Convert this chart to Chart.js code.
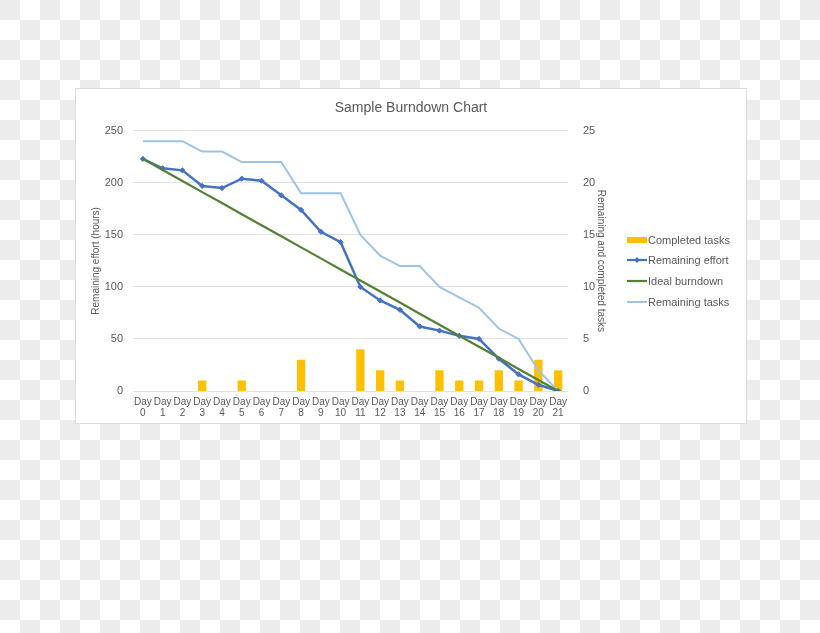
<!DOCTYPE html>
<html>
<head>
<meta charset="utf-8">
<script src="https://cdn.jsdelivr.net/npm/chart.js@4.4.0/dist/chart.umd.min.js"></script>
<style>
  html, body { margin: 0; padding: 0; }
  body {
    width: 820px; height: 633px; overflow: hidden;
    background-color: #fff;
    background-image: conic-gradient(#fff 0 25%, #ececec 0 50%, #fff 0 75%, #ececec 0);
    background-size: 40px 40px;
  }
  #panel {
    position: absolute; left: 75px; top: 88px; width: 672px; height: 336px;
    box-sizing: border-box; background: #fff; border: 1px solid #dcdcdc;
  }
  #burndown { position: absolute; left: 75px; top: 88px; }
</style>
</head>
<body>
<div id="panel"></div>
<canvas id="burndown" width="672" height="336"></canvas>
<script>
const days = ['Day 0', 'Day 1', 'Day 2', 'Day 3', 'Day 4', 'Day 5', 'Day 6', 'Day 7', 'Day 8', 'Day 9', 'Day 10',
  'Day 11', 'Day 12', 'Day 13', 'Day 14', 'Day 15', 'Day 16', 'Day 17', 'Day 18', 'Day 19', 'Day 20', 'Day 21'];

const completedTasks = [0, 0, 0, 1, 0, 1, 0, 0, 3, 0, 0, 4, 2, 1, 0, 2, 1, 1, 2, 1, 3, 2];
const remainingEffort = [223, 214, 212, 197, 195, 204, 202, 188, 174, 153, 143, 100, 87, 78, 62, 58, 53, 50, 31, 16, 6, 0];
const idealBurndown = [223, 212.4, 201.8, 191.1, 180.6, 169.9, 159.3, 148.7, 138.0, 127.4, 116.8,
  106.2, 95.6, 85.0, 74.3, 63.7, 53.1, 42.5, 31.9, 21.2, 10.6, 0];
const remainingTasks = [24, 24, 24, 23, 23, 22, 22, 22, 19, 19, 19, 15, 13, 12, 12, 10, 9, 8, 6, 5, 2, 0];

const textGray = '#595959';
const colors = {
  completed: '#FFC000',
  effort: '#4472C4',
  ideal: '#548235',
  tasks: '#9DC3E6'
};

Chart.defaults.font.family = '"Liberation Sans", Arial, sans-serif';
Chart.defaults.color = textGray;

// legend drawn by hand to sit like the spreadsheet one
const sideLegendPlugin = {
  id: 'sideLegend',
  afterDraw(chart) {
    const ctx = chart.ctx;
    const x = 552;
    const items = [
      { label: 'Completed tasks', y: 152, kind: 'bar', color: colors.completed },
      { label: 'Remaining effort', y: 172, kind: 'marker', color: colors.effort },
      { label: 'Ideal burndown', y: 193, kind: 'line', color: colors.ideal },
      { label: 'Remaining tasks', y: 214, kind: 'line', color: colors.tasks, width: 2 }
    ];
    ctx.save();
    items.forEach(item => {
      if (item.kind === 'bar') {
        ctx.fillStyle = item.color;
        ctx.fillRect(x, item.y - 3, 20, 6);
      } else {
        ctx.beginPath();
        ctx.moveTo(x, item.y);
        ctx.lineTo(x + 20, item.y);
        ctx.lineWidth = item.width || 2.2;
        ctx.strokeStyle = item.color;
        ctx.stroke();
        if (item.kind === 'marker') {
          ctx.beginPath();
          ctx.moveTo(x + 10, item.y - 3);
          ctx.lineTo(x + 13, item.y);
          ctx.lineTo(x + 10, item.y + 3);
          ctx.lineTo(x + 7, item.y);
          ctx.closePath();
          ctx.fillStyle = item.color;
          ctx.fill();
        }
      }
      ctx.fillStyle = textGray;
      ctx.font = '11px "Liberation Sans", Arial, sans-serif';
      ctx.textBaseline = 'middle';
      ctx.textAlign = 'left';
      ctx.fillText(item.label, x + 21, item.y + 1);
    });
    ctx.restore();
  }
};

new Chart(document.getElementById('burndown'), {
  data: {
    labels: days,
    datasets: [
      {
        type: 'bar',
        label: 'Completed tasks',
        data: completedTasks,
        yAxisID: 'y1',
        backgroundColor: colors.completed,
        barPercentage: 0.42,
        categoryPercentage: 1,
        order: 4
      },
      {
        type: 'line',
        label: 'Remaining effort',
        data: remainingEffort,
        yAxisID: 'y',
        borderColor: colors.effort,
        backgroundColor: colors.effort,
        borderWidth: 2.5,
        pointStyle: 'rectRot',
        pointRadius: 2.6,
        pointBorderWidth: 1,
        tension: 0,
        order: 2
      },
      {
        type: 'line',
        label: 'Ideal burndown',
        data: idealBurndown,
        yAxisID: 'y',
        borderColor: colors.ideal,
        borderWidth: 2.2,
        pointRadius: 0,
        tension: 0,
        order: 1
      },
      {
        type: 'line',
        label: 'Remaining tasks',
        data: remainingTasks,
        yAxisID: 'y1',
        borderColor: colors.tasks,
        borderWidth: 2,
        pointRadius: 0,
        tension: 0,
        order: 3
      }
    ]
  },
  options: {
    responsive: false,
    animation: false,
    layout: { padding: 0 },
    plugins: {
      legend: { display: false },
      tooltip: { enabled: false },
      title: {
        display: true,
        text: 'Sample Burndown Chart',
        color: textGray,
        font: { size: 14, weight: 'normal' },
        padding: { top: 12, bottom: 14 }
      }
    },
    scales: {
      x: {
        offset: true,
        grid: { display: false, drawTicks: false },
        border: { display: false },
        ticks: {
          autoSkip: false,
          maxRotation: 0,
          padding: 6,
          color: textGray,
          font: { size: 10, lineHeight: 1.1 },
          callback: function (value) {
            return this.getLabelForValue(value).split(' ');
          }
        },
        afterFit(scale) { scale.height = 33; }
      },
      y: {
        position: 'left',
        min: 0,
        max: 250,
        ticks: { stepSize: 50, padding: 10, color: textGray, font: { size: 11 } },
        grid: { color: '#e2e2e2', drawTicks: false },
        border: { display: false },
        title: {
          display: true,
          text: 'Remaining effort (hours)',
          color: textGray,
          font: { size: 10 },
          padding: { top: 15, bottom: 0 }
        },
        afterFit(scale) { scale.width = 58; }
      },
      y1: {
        position: 'right',
        min: 0,
        max: 25,
        ticks: { stepSize: 5, padding: 15, color: textGray, font: { size: 11 } },
        grid: { display: false, drawTicks: false },
        border: { display: false },
        title: {
          display: true,
          text: 'Remaining and completed tasks',
          color: textGray,
          font: { size: 10 },
          padding: { top: 140, bottom: 0 }
        },
        afterFit(scale) { scale.width = 179; }
      }
    }
  },
  plugins: [sideLegendPlugin]
});
</script>
</body>
</html>
